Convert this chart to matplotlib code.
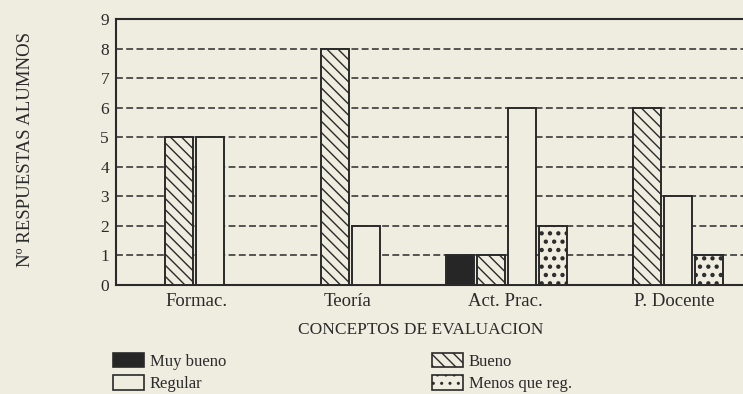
import matplotlib
matplotlib.use("Agg")
import matplotlib.pyplot as plt
import matplotlib.patches as mpatches
import matplotlib.transforms as mtransforms
import numpy as np

# ---- data ----
categories = ["Formac.", "Teoría", "Act. Prac.", "P. Docente"]
series_names = ["Muy bueno", "Bueno", "Regular", "Menos que reg."]
muy_bueno = [0, 0, 1, 0]
bueno = [5, 8, 1, 6]
regular = [5, 2, 6, 3]
menos_que_reg = [0, 0, 2, 1]
y_ticks = [0, 1, 2, 3, 4, 5, 6, 7, 8, 9]

# ---- style ----
BG = "#efece0"
INK = "#2a2a2a"
plt.rcParams["font.family"] = ["Liberation Serif", "DejaVu Serif"]
plt.rcParams["hatch.color"] = INK

styles = [
    dict(facecolor="#262626", hatch=None, hlw=1.0),
    dict(facecolor=BG, hatch="\\\\\\", hlw=1.0),
    dict(facecolor=BG, hatch=None, hlw=1.0),
    dict(facecolor=BG, hatch="..", hlw=1.9),
]

fig = plt.figure(figsize=(7.43, 3.94), dpi=100, facecolor=BG)
W, H = 743, 394
left, right, top, bottom = 116, 743, 19, 285
ax = fig.add_axes([left / W, 1 - bottom / H, (right - left) / W, (bottom - top) / H])
ax.set_facecolor(BG)

x = np.arange(len(categories))
slot = 0.2
width = 0.18
offsets = [-1.5, -0.5, 0.5, 1.5]
data = [muy_bueno, bueno, regular, menos_que_reg]

handles = []
for vals, off, st, name in zip(data, offsets, styles, series_names):
    with plt.rc_context({"hatch.linewidth": st["hlw"]}):
        bars = ax.bar(x + off * slot, vals, width, facecolor=st["facecolor"],
                      edgecolor=INK, linewidth=1.4, hatch=st["hatch"], zorder=3)
        for b in bars:
            if hasattr(b, "set_hatch_linewidth"):
                b.set_hatch_linewidth(st["hlw"])
        h = mpatches.Patch(facecolor=st["facecolor"], edgecolor=INK, linewidth=1.2,
                           hatch=st["hatch"], label=name)
        if hasattr(h, "set_hatch_linewidth"):
            h.set_hatch_linewidth(st["hlw"])
    handles.append(h)

ax.set_xlim(-0.503, 3.516)
ax.set_ylim(0, 9)
ax.set_yticks(y_ticks)
ax.set_xticks(x)
ax.set_xticklabels(categories)
ax.tick_params(axis="both", length=0, colors=INK)
ax.tick_params(axis="y", pad=5, labelsize=12.5)
ax.tick_params(axis="x", pad=6, labelsize=13.5)

# small horizontal nudges of the category labels as printed in the original
label_shift_px = [2, -3, -1, 12]
for lab, dx in zip(ax.get_xticklabels(), label_shift_px):
    lab.set_transform(lab.get_transform() +
                      mtransforms.ScaledTranslation(dx / 100, 0, fig.dpi_scale_trans))

for yv in y_ticks[1:-1]:
    ax.axhline(yv, color=INK, linewidth=1.1, linestyle=(0, (4.5, 2.2)), zorder=1)

for s in ["left", "top", "bottom"]:
    ax.spines[s].set_linewidth(1.5)
    ax.spines[s].set_color(INK)
ax.spines["right"].set_visible(False)

ax.set_ylabel("Nº RESPUESTAS ALUMNOS", fontsize=13.5, color=INK)
ax.yaxis.set_label_coords(-0.145, 0.51)
ax.yaxis.label.set_va("center")
ax.set_xlabel("CONCEPTOS DE EVALUACION", fontsize=12.5, color=INK)
ax.xaxis.set_label_coords(0.486, -0.169)
ax.xaxis.label.set_va("center")

leg_kw = dict(loc="upper left", frameon=False, fontsize=12, borderpad=0,
              borderaxespad=0, handlelength=1.85, handleheight=0.95,
              handletextpad=0.35, labelspacing=0.32, labelcolor=INK)
fig.legend([handles[0], handles[2]], [series_names[0], series_names[2]],
           bbox_to_anchor=(113 / W, 1 - 353 / H), **leg_kw)
fig.legend([handles[1], handles[3]], [series_names[1], series_names[3]],
           bbox_to_anchor=(432 / W, 1 - 353 / H), **leg_kw)

fig.savefig("out.png", dpi=100, facecolor=BG)
